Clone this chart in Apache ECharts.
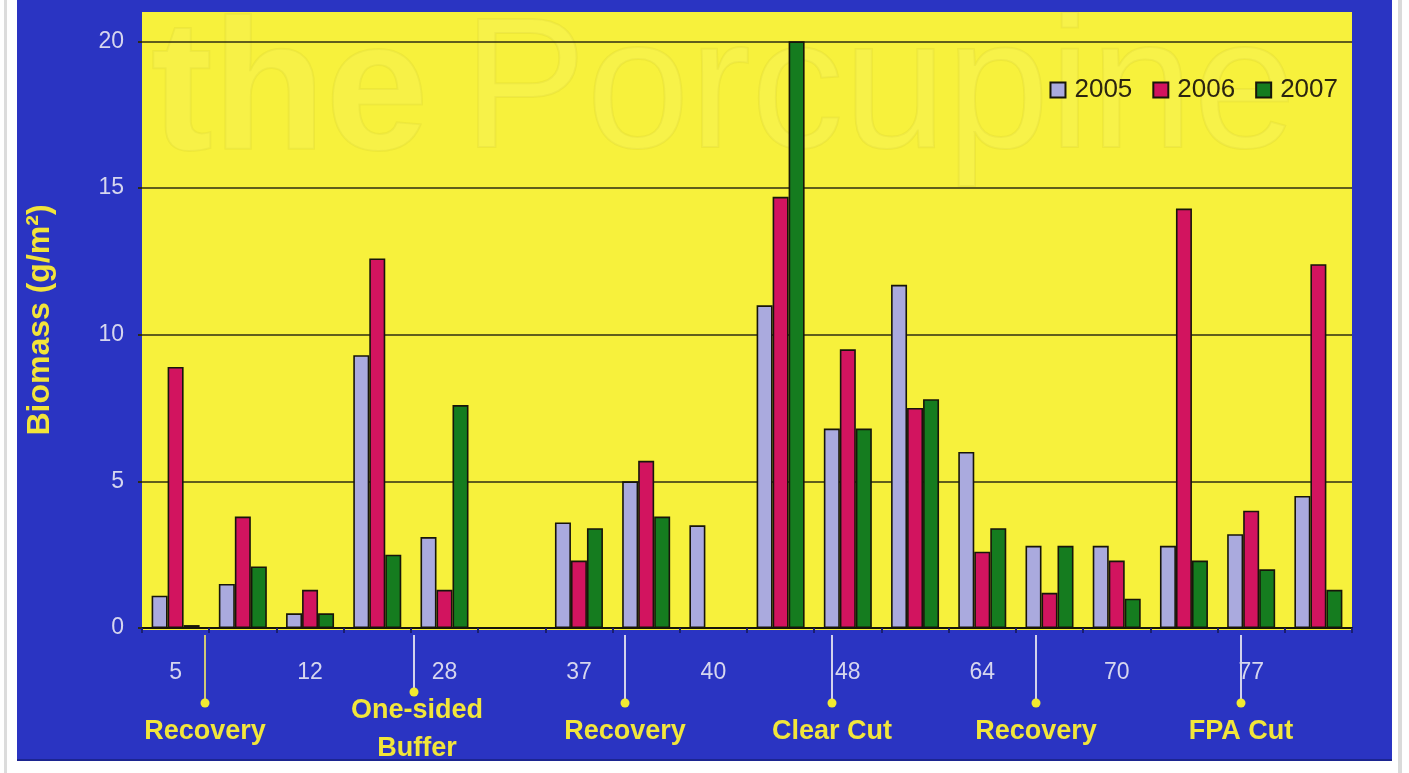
<!DOCTYPE html>
<html>
<head>
<meta charset="utf-8">
<title>Biomass by site</title>
<script src="https://cdn.jsdelivr.net/npm/echarts@6/dist/echarts.min.js"></script>
<style>
  html, body { margin: 0; padding: 0; background: #ffffff; }
  #chart { width: 1409px; height: 773px; }
</style>
</head>
<body>
<div id="chart"></div>
<script>
// Sampling sites along the stream (only every other site is labelled)
const categories = ['5', '', '12', '', '28', '', '37', '', '40', '', '48', '', '64', '', '70', '', '77', ''];
const seriesNames = ['2005', '2006', '2007'];

// Biomass (g/m²) per site and year
const biomass2005 = [1.1, 1.5, 0.5, 9.3, 3.1, null, 3.6, 5.0, 3.5, 11.0, 6.8, 11.7, 6.0, 2.8, 2.8, 2.8, 3.2, 4.5];
const biomass2006 = [8.9, 3.8, 1.3, 12.6, 1.3, null, 2.3, 5.7, null, 14.7, 9.5, 7.5, 2.6, 1.2, 2.3, 14.3, 4.0, 12.4];
const biomass2007 = [0.1, 2.1, 0.5, 2.5, 7.6, null, 3.4, 3.8, null, 20.0, 6.8, 7.8, 3.4, 2.8, 1.0, 2.3, 2.0, 1.3];

// Y axis tick values
const yTicks = [0, 5, 10, 15, 20];

// Treatments: label and where its arrow points, in category units from the left edge
const treatmentLabels = ['Recovery', 'One-sided\nBuffer', 'Recovery', 'Clear Cut', 'Recovery', 'FPA Cut'];
const treatmentAt = [0.94, 4.05, 7.19, 10.27, 13.30, 16.35];

const W = 1409, H = 773;
const G = { left: 142, top: 12, right: 57, bottom: 145 };
const plotW = W - G.left - G.right;
const plotH = H - G.top - G.bottom;

const BLUE = '#2a34c2';
const YELLOW = '#f7f13c';
const colors = ['#aaaade', '#d2145f', '#157c1f'];
const seriesData = [biomass2005, biomass2006, biomass2007];

const chart = echarts.init(document.getElementById('chart'), null, { renderer: 'canvas' });

const baseGraphics = [
  // yellow plot panel
  { type: 'rect', z: -10, silent: true,
    shape: { x: G.left, y: G.top, width: plotW, height: plotH + 2 },
    style: { fill: YELLOW } },
  // faint lettering showing through the panel
  { type: 'text', z: -9, silent: true, left: 150, top: 4,
    style: { text: 'the', font: 'bold 185px "Liberation Sans", Arial, sans-serif',
             fill: 'rgba(255,255,255,0.06)', stroke: 'rgba(110,100,0,0.06)', lineWidth: 2 } },
  { type: 'text', z: -9, silent: true, left: 462, top: 2,
    style: { text: 'Porcupine', font: '185px "Liberation Sans", Arial, sans-serif',
             fill: 'rgba(255,255,255,0.07)', stroke: 'rgba(110,100,0,0.06)', lineWidth: 2 } },
  // white page margins around the blue board
  { type: 'rect', z: 100, silent: true, shape: { x: 0, y: 0, width: 17, height: H }, style: { fill: '#ffffff' } },
  { type: 'rect', z: 101, silent: true, shape: { x: 4, y: 0, width: 3, height: H }, style: { fill: '#dcdcdc' } },
  { type: 'rect', z: 100, silent: true, shape: { x: 1392, y: 0, width: W - 1392, height: H }, style: { fill: '#ffffff' } },
  { type: 'rect', z: 101, silent: true, shape: { x: 1398, y: 0, width: 4, height: H }, style: { fill: '#dadada' } },
  { type: 'rect', z: 100, silent: true, shape: { x: 0, y: 761, width: W, height: H - 761 }, style: { fill: '#ffffff' } },
  { type: 'rect', z: 101, silent: true, shape: { x: 17, y: 759, width: 1375, height: 2 }, style: { fill: '#1c2590' } }
];

chart.setOption({
  backgroundColor: BLUE,
  animation: false,
  textStyle: { fontFamily: 'Arial, "Liberation Sans", sans-serif' },
  grid: { left: G.left, top: G.top, right: G.right, bottom: G.bottom, containLabel: false },
  legend: {
    data: seriesNames,
    top: 72,
    right: 66,
    icon: 'rect',
    itemWidth: 15,
    itemHeight: 15,
    itemGap: 20,
    textStyle: { color: '#2b2410', fontSize: 26, padding: [0, 0, 0, 4] }
  },
  xAxis: {
    type: 'category',
    data: categories,
    boundaryGap: true,
    axisLine: { show: true, lineStyle: { color: '#15140a', width: 2 } },
    axisTick: { show: true, interval: 0, length: 5, lineStyle: { color: '#1a1f70', width: 2 } },
    axisLabel: { interval: 1, margin: 33, color: '#d6d6ee', fontSize: 23 },
    splitLine: { show: false }
  },
  yAxis: {
    type: 'value',
    min: 0,
    max: 21,
    interval: 5,
    name: 'Biomass (g/m²)',
    nameLocation: 'middle',
    nameRotate: 90,
    nameGap: 86,
    nameTextStyle: { color: '#f2e43a', fontSize: 32, fontWeight: 'bold' },
    axisLine: { show: false },
    axisTick: { show: true, length: 4, lineStyle: { color: '#2a2a18', width: 2 } },
    axisLabel: {
      margin: 18, color: '#d6d6ee', fontSize: 23, showMaxLabel: false,
      formatter: v => (yTicks.indexOf(v) >= 0 ? String(v) : '')
    },
    splitLine: { show: true, showMaxLine: false, lineStyle: { color: '#2e2c12', width: 1.6 } }
  },
  series: seriesNames.map((name, i) => ({
    name: name,
    type: 'bar',
    data: seriesData[i],
    barWidth: 16,
    barGap: '0%',
    itemStyle: { color: colors[i], borderColor: '#17150a', borderWidth: 1.6 }
  })),
  graphic: baseGraphics
});

// Treatment arrows under the axis, placed through the category scale
function drawTreatments() {
  const c0 = chart.convertToPixel({ xAxisIndex: 0 }, 0);
  const c1 = chart.convertToPixel({ xAxisIndex: 0 }, 1);
  const band = c1 - c0;
  const elements = [];
  treatmentLabels.forEach((label, i) => {
    const x = Math.round(c0 + (treatmentAt[i] - 0.5) * band);
    const twoLines = label.indexOf('\n') >= 0;
    const tipY = twoLines ? 692 : 703;
    elements.push({
      type: 'line', silent: true, z: 50,
      shape: { x1: x, y1: 635, x2: x, y2: tipY - 2 },
      style: { stroke: i === 0 ? '#cfc777' : '#d2d2ec', lineWidth: 2 }
    });
    elements.push({
      type: 'circle', silent: true, z: 51,
      shape: { cx: x, cy: tipY, r: 4.5 },
      style: { fill: '#f2ea30' }
    });
    elements.push({
      type: 'text', silent: true, z: 50,
      x: twoLines ? x + 3 : x, y: twoLines ? 730 : 732,
      style: {
        text: label, align: 'center', verticalAlign: 'middle',
        font: 'bold 27px Arial, "Liberation Sans", sans-serif',
        lineHeight: 38, fill: '#f2e63a'
      }
    });
  });
  chart.setOption({ graphic: baseGraphics.concat(elements) }, { replaceMerge: ['graphic'] });
}
drawTreatments();
</script>
</body>
</html>
